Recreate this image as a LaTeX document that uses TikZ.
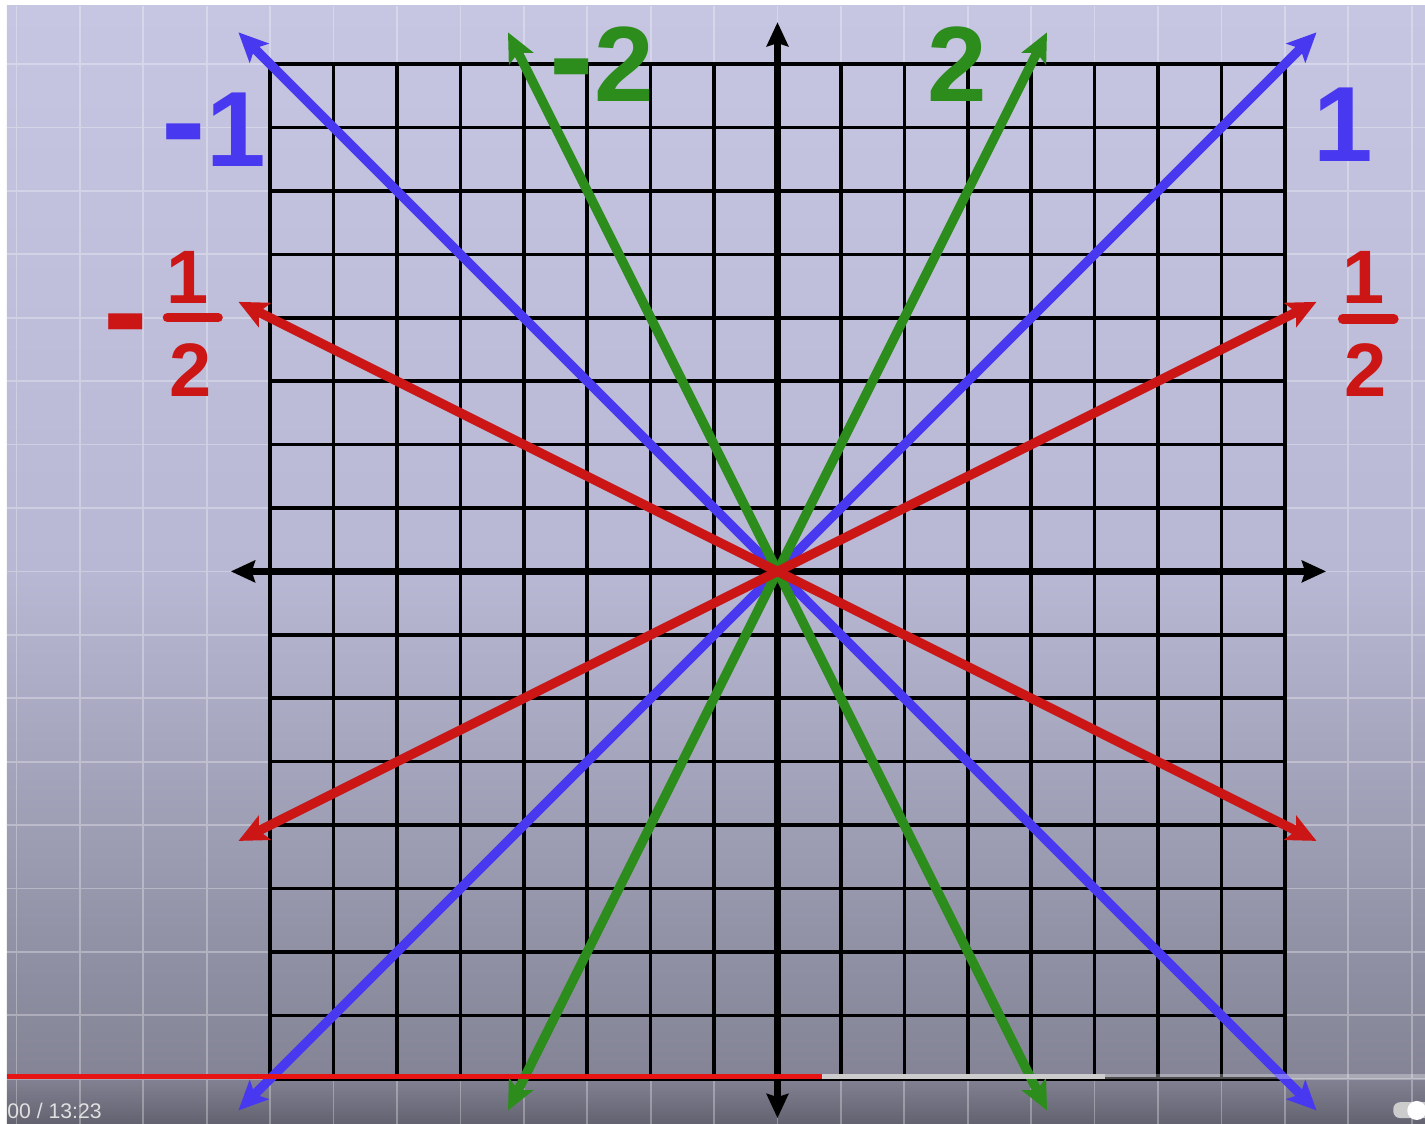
\documentclass[tikz,border=0pt]{standalone}
\usepackage{fontspec}
\setmainfont{Liberation Sans}
\usepackage{tikz}
\usetikzlibrary{arrows.meta}

\definecolor{lineblue}{RGB}{72,56,240}
\definecolor{linegreen}{RGB}{44,140,28}
\definecolor{linered}{RGB}{204,22,22}
\definecolor{bgtop}{RGB}{198,198,226}
\definecolor{bgmid}{RGB}{184,184,212}
\definecolor{bglow}{RGB}{132,132,150}
\definecolor{bgbar}{RGB}{98,98,112}
\definecolor{playred}{RGB}{232,20,20}

\newcommand{\bignum}{\fontsize{48}{48}\selectfont\bfseries}
\newcommand{\fracnum}{\fontsize{34}{34}\selectfont\bfseries}
\newcommand{\bigminus}{{\fontsize{60}{60}\selectfont\bfseries-}}

\begin{document}
\begin{tikzpicture}[
    gridline/.style={draw=black, line width=1.6pt},
    bggrid/.style={draw=white, opacity=0.3, line width=0.8pt},
    axis/.style={draw=black, line width=3.2pt, {Stealth[length=3.8mm, width=3.4mm, inset=0.5mm]}-{Stealth[length=3.8mm, width=3.4mm, inset=0.5mm]}},
    slope/.style={line width=4.2pt, {Stealth[length=4.6mm, width=4.2mm, inset=1mm]}-{Stealth[length=4.6mm, width=4.2mm, inset=1mm]}},
    biglabel/.style={anchor=base, inner sep=0pt, font=\bignum},
    fraclabel/.style={anchor=base, inner sep=0pt, font=\fracnum},
    fracbar/.style={line width=4.2pt, line cap=round},
    progress/.style={line width=2.4pt}
]
    \useasboundingbox[fill=white] (-12.26,-8.71) rectangle (10.21,9.01);

    % Background
    \fill[top color=bgtop, bottom color=bgmid] (-12.15,0) rectangle (10.21,8.92);
    \fill[top color=bgmid, bottom color=bglow] (-12.15,-7.95) rectangle (10.21,0);
    \fill[top color=bglow, bottom color=bgbar] (-12.15,-8.71) rectangle (10.21,-7.95);
    \draw[bggrid] (-12.15,-8.71) grid (10.21,8.92);

    % Grid
    \draw[gridline] (-8,-8) grid (8,8);

    \coordinate (xleft) at (-8.62,0);
    \coordinate (xright) at (8.65,0);
    \coordinate (ytop) at (0,8.66);
    \coordinate (ybottom) at (0,-8.62);

    \coordinate (blueA) at (-8.5,-8.5);
    \coordinate (blueB) at (8.5,8.5);
    \coordinate (blueC) at (-8.5,8.5);
    \coordinate (blueD) at (8.5,-8.5);
    \coordinate (greenA) at (-4.25,-8.5);
    \coordinate (greenB) at (4.25,8.5);
    \coordinate (greenC) at (-4.25,8.5);
    \coordinate (greenD) at (4.25,-8.5);
    \coordinate (redA) at (-8.5,-4.25);
    \coordinate (redB) at (8.5,4.25);
    \coordinate (redC) at (-8.5,4.25);
    \coordinate (redD) at (8.5,-4.25);

    % Axes
    \draw[axis] (xleft) -- (xright);
    \draw[axis] (ybottom) -- (ytop);

    % Lines
    \draw[slope, lineblue] (blueA) -- (blueB);
    \draw[slope, lineblue] (blueC) -- (blueD);
    \draw[slope, linegreen] (greenA) -- (greenB);
    \draw[slope, linegreen] (greenC) -- (greenD);
    \draw[slope, linered] (redA) -- (redB);
    \draw[slope, linered] (redC) -- (redD);

    % Labels
    \node[biglabel, text=lineblue] (lblnegone) at (-8.89,6.38) {\bigminus1};
    \node[biglabel, text=lineblue] (lblone) at (8.92,6.46) {1};
    \node[biglabel, text=linegreen] (lblnegtwo) at (-2.77,7.41) {\bigminus2};
    \node[biglabel, text=linegreen] (lbltwo) at (2.83,7.41) {2};

    \node[fraclabel, text=linered] (lblneghalfsign) at (-10.28,3.39) {\bigminus};
    \node[fraclabel, text=linered] (lblneghalfnum) at (-9.30,4.23) {1};
    \node[fraclabel, text=linered] (lblneghalfden) at (-9.25,2.75) {2};
    \coordinate (neghalfbarL) at (-9.62,4.0);
    \coordinate (neghalfbarR) at (-8.82,4.0);
    \draw[fracbar, linered] (neghalfbarL) -- (neghalfbarR);

    \node[fraclabel, text=linered] (lblhalfnum) at (9.24,4.23) {1};
    \node[fraclabel, text=linered] (lblhalfden) at (9.28,2.75) {2};
    \coordinate (halfbarL) at (8.91,3.98);
    \coordinate (halfbarR) at (9.72,3.98);
    \draw[fracbar, linered] (halfbarL) -- (halfbarR);

    % Player bar
    \draw[progress, playred] (-12.15,-7.96) -- (0.70,-7.96);
    \draw[progress, black!20] (0.70,-7.96) -- (5.17,-7.96);
    \draw[progress, white, opacity=0.3] (5.17,-7.96) -- (10.21,-7.96);
    \node[anchor=base west, inner sep=0pt, text=white!88!black, font=\fontsize{9.5}{9.5}\selectfont] (playtime) at (-12.15,-8.62) {00 / 13:23};
    \fill[black!20, rounded corners=3pt] (9.71,-8.62) rectangle (10.5,-8.37);
    \fill[white] (10.08,-8.50) circle (0.15);
\end{tikzpicture}
\end{document}
